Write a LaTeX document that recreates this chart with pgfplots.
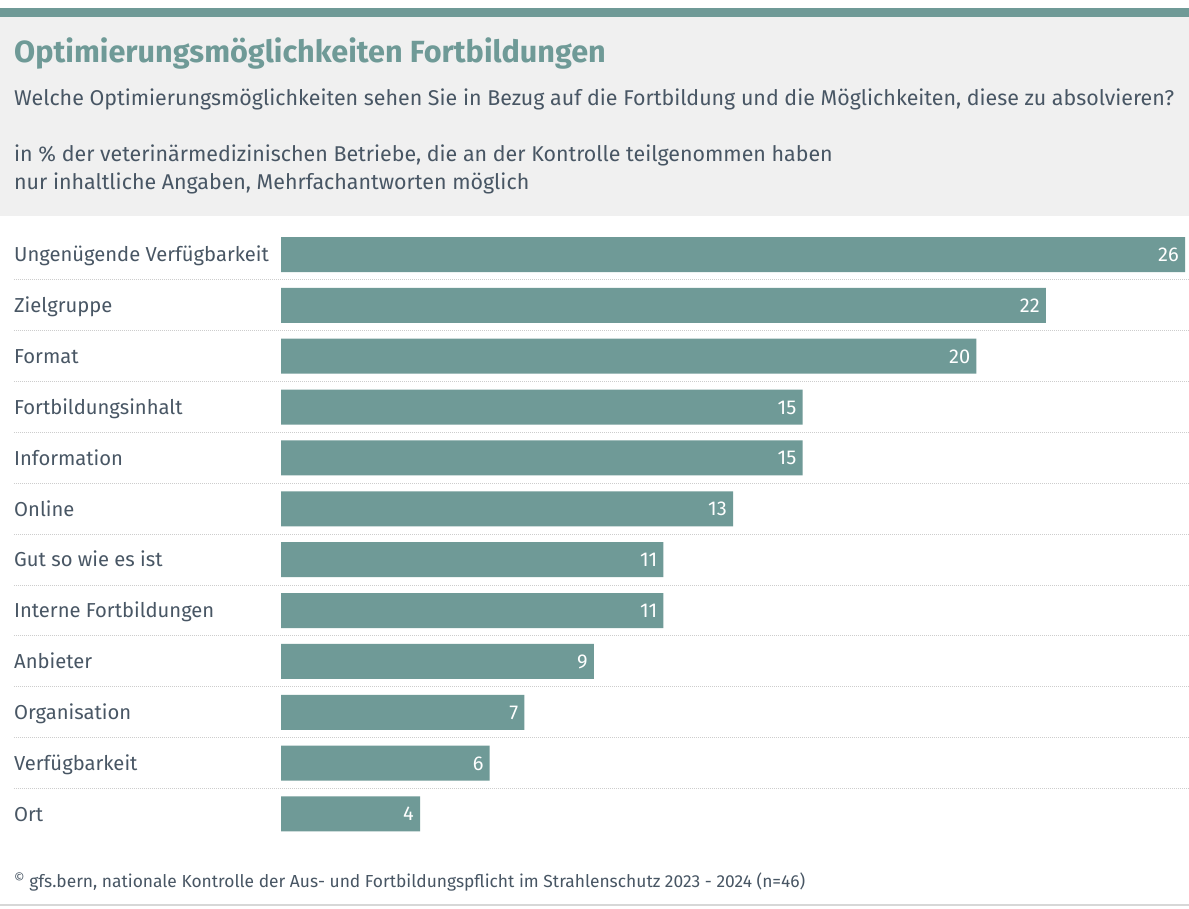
\documentclass[border=0pt]{standalone}
\usepackage{fontspec}
\setmainfont{Fira Sans}
\usepackage{pgfplots}
\pgfplotsset{compat=1.18}
\definecolor{teal}{RGB}{111,154,151}
\definecolor{textc}{RGB}{72,86,100}
\definecolor{headbg}{RGB}{240,240,240}
\definecolor{sepc}{RGB}{205,205,205}
\begin{document}
\begin{tikzpicture}[x=1pt,y=1pt]
\path[use as bounding box] (0,0) rectangle (1189,908);
\fill[white] (0,0) rectangle (1189,908);
\fill[headbg] (0,692) rectangle (1189,891);
\fill[teal] (0,891) rectangle (1189,900);
\node[anchor=base west, inner sep=0, text=teal, font=\fontsize{30.6}{36}\selectfont\bfseries] at (14,845) {Optimierungsmöglichkeiten Fortbildungen};
\node[anchor=base west, inner sep=0, text=textc, font=\fontsize{21.4}{26}\selectfont] at (14,802) {Welche Optimierungsmöglichkeiten sehen Sie in Bezug auf die Fortbildung und die Möglichkeiten, diese zu absolvieren?};
\node[anchor=base west, inner sep=0, text=textc, font=\fontsize{21.4}{26}\selectfont] at (14,746.3) {in \% der veterinärmedizinischen Betriebe, die an der Kontrolle teilgenommen haben};
\node[anchor=base west, inner sep=0, text=textc, font=\fontsize{21.4}{26}\selectfont] at (14,718.7) {nur inhaltliche Angaben, Mehrfachantworten möglich};
\node[anchor=base west, inner sep=0, text=textc, font=\fontsize{17.4}{20}\selectfont] at (14,21) {\raisebox{0.28em}{\fontsize{13}{13}\selectfont ©} gfs.bern, nationale Kontrolle der Aus- und Fortbildungspflicht im Strahlenschutz 2023 - 2024 (n=46)};
\draw[sepc!80, line width=1.5pt] (0,3) -- (1189,3);
\begin{axis}[
  at={(281pt,68.6pt)}, anchor=south west,
  scale only axis, width=904pt, height=610.3pt,
  xbar, bar width=35pt,
  xmin=0, xmax=26, ymin=-0.5, ymax=11.5, y dir=reverse,
  axis line style={draw=none}, clip=false,
  xtick=\empty, major tick length=0pt,
  ytick={0,...,11},
  yticklabels={Ungenügende Verfügbarkeit,Zielgruppe,Format,Fortbildungsinhalt,Information,Online,Gut so wie es ist,Interne Fortbildungen,Anbieter,Organisation,Verfügbarkeit,Ort},
  yticklabel style={anchor=base west, inner sep=0, xshift=-267pt, yshift=-7.2pt, text=textc, font=\fontsize{20.2}{24}\selectfont},
  /pgf/number format/assume math mode=true,
  nodes near coords,
  every node near coord/.append style={anchor=base east, inner sep=0, xshift=-6pt, yshift=-6.9pt, text=white, font=\fontsize{20}{24}\selectfont},
]
\addplot[fill=teal, draw=none] coordinates {
(26,0) (22,1) (20,2) (15,3) (15,4) (13,5) (11,6) (11,7) (9,8) (7,9) (6,10) (4,11)};
\pgfplotsinvokeforeach{0,...,10}{
  \draw[sepc, line width=1pt, dash pattern=on 1pt off 1pt] ([xshift=-267pt]axis cs:0,#1.5) -- ([xshift=4pt]axis cs:26,#1.5);
}
\end{axis}
\end{tikzpicture}
\end{document}
